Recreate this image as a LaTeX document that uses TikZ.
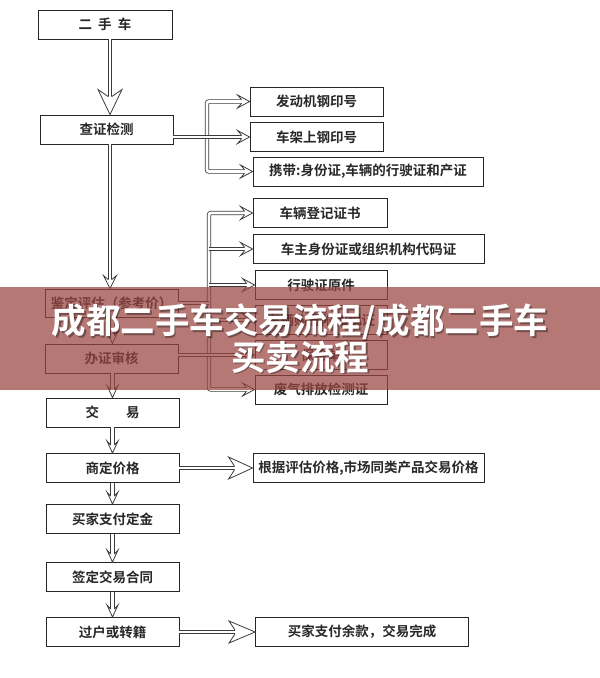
\documentclass[tikz,border=0pt]{standalone}
\usepackage{fontspec}
\newfontfamily\cjk[BoldFont={Noto Sans CJK SC Bold}]{Noto Sans CJK SC}
\usetikzlibrary{calc}
\definecolor{bannerc}{RGB}{153,69,64}
\definecolor{boxtext}{RGB}{40,40,40}
\definecolor{lnc}{RGB}{60,60,60}
\tikzset{
  bx/.style={draw=black!85, line width=0.9pt, fill=white, inner sep=0pt,
    font={\cjk\bfseries\fontsize{13.5}{15}\selectfont}, text=boxtext, minimum height=29pt},
  dbl/.style={draw=lnc, line width=0.8pt, double=white, double distance=2.8pt},
  pics/ahead/.style args={#1/#2/#3}{code={
    \fill[white] (0,0) -- (-#1,#2/2) -- (-#1+#3,1.8) -- (-#1+#3,-1.8) -- (-#1,-#2/2) -- cycle;
    \draw[draw=lnc, line width=0.8pt, line join=miter] (-#1+#3,1.8) -- (-#1,#2/2) -- (0,0) -- (-#1,-#2/2) -- (-#1+#3,-1.8);
  }},
  titlef/.style={font={\cjk\bfseries\fontsize{34.5}{37}\selectfont}, inner sep=0pt},
}
\begin{document}
\begin{tikzpicture}[x=1pt,y=-1pt]
\useasboundingbox (0,0) rectangle (600,678);
\fill[white] (0,0) rectangle (600,678);
\coordinate (c1) at (110,0);
\coordinate (c2) at (112.5,0);
\coordinate (v1) at (207,0);
\coordinate (v2) at (209,0);
% main column
\node[bx, minimum width=134pt] (ershou) at (105,24.5) {二\hspace{0.45em}手\hspace{0.45em}车};
\node[bx, minimum width=133pt] (cz) at (106.5,129.5) {查证检测};
\node[bx, minimum width=133pt, minimum height=28pt] (djpg) at (111.5,303) {鉴定评估（参考价）};
\node[bx, minimum width=133pt] (bzsh) at (111.5,358.5) {办证审核};
\node[bx, minimum width=133pt] (jy) at (112.5,412.5) {交\hspace{2em}易};
\node[bx, minimum width=133pt] (sdjg) at (112.5,468) {商定价格};
\node[bx, minimum width=133pt] (mjdj) at (112.5,519) {买家支付定金};
\node[bx, minimum width=133pt] (qdht) at (112.5,577) {签定交易合同};
\node[bx, minimum width=133pt] (gh) at (112.5,632) {过户或转籍};
% branch 1 boxes
\node[bx, minimum width=133pt] (fdj) at (316.5,101.5) {发动机钢印号};
\node[bx, minimum width=133pt] (cj) at (316.5,137) {车架上钢印号};
\node[bx, minimum width=230pt] (xd) at (368,171.5) {携带:身份证,车辆的行驶证和产证};
% branch 2 boxes
\node[bx, minimum width=134pt] (dj) at (320,213) {车辆登记证书};
\node[bx, minimum width=231pt] (cz2) at (368.5,249) {车主身份证或组织机构代码证};
\node[bx, minimum width=132pt] (xsz) at (321,285) {行驶证原件};
\node[bx, minimum width=132pt] (b4) at (321,320) {车辆购置附加税证};
\node[bx, minimum width=132pt] (b5) at (321,355) {保险单};
\node[bx, minimum width=132pt] (fq) at (321,389.5) {废气排放检测证};
% right boxes lower
\node[bx, minimum width=231pt] (gj) at (368.5,468) {根据评估价格,市场同类产品交易价格};
\node[bx, minimum width=213pt] (yk) at (362,632) {买家支付余款，交易完成};
% main column arrows
\draw[dbl, shorten >=17.7pt] (ershou.south -| c1) -- (cz.north -| c1);
\pic[rotate=-90] at (cz.north -| c1) {ahead=25/24/7};
\draw[dbl, shorten >=8.7pt] (cz.south -| c1) -- (djpg.north -| c1);
\pic[rotate=-90] at (djpg.north -| c1) {ahead=13/13/4};
\foreach \a/\b in {djpg/bzsh, bzsh/jy, jy/sdjg, sdjg/mjdj, mjdj/qdht, qdht/gh}{
  \draw[dbl, shorten >=7.7pt] (\a.south -| c2) -- (\b.north -| c2);
  \pic[rotate=-90] at (\b.north -| c2) {ahead=12/11/4};
}
% branch 1
\draw[dbl, rounded corners=2pt, shorten <=7.7pt, shorten >=7.7pt] (fdj.west) -- (fdj.west -| v1) -- (xd.west -| v1) -- (xd.west);
\draw[dbl, shorten >=7.7pt] (cz.east |- cj.west) -- (cj.west);
\foreach \b in {fdj, cj, xd}{\pic at (\b.west) {ahead=12/13/4};}
% branch 2
\draw[dbl, rounded corners=2pt, shorten <=7.7pt, shorten >=7.7pt] (dj.west) -- (dj.west -| v2) -- (fq.west -| v2) -- (fq.west);
\draw[dbl, shorten >=7.7pt] (cz2.west -| v2) -- (cz2.west);
\draw[dbl, shorten >=7.7pt] (xsz.west -| v2) -- (xsz.west);
\draw[dbl, shorten >=7.7pt] (b4.west -| v2) -- (b4.west);
\draw[dbl, shorten >=7.7pt] (bzsh.east |- b5.west) -- (b5.west);
\draw[dbl] (djpg.east) -- (djpg.east -| v2);
\foreach \b in {dj, cz2, xsz, b4, b5, fq}{\pic at (\b.west) {ahead=12/13/4};}
% big right arrows
\draw[dbl, shorten >=17.7pt] (sdjg.east) -- (gj.west);
\pic at (gj.west) {ahead=24/22/6};
\draw[dbl, shorten >=19.7pt] (gh.east) -- (yk.west);
\pic at (yk.west) {ahead=26/22/6};
% banner
\fill[bannerc, opacity=0.72] (0,287) rectangle (600,390);
\node[titlef, text=black, opacity=0.35] (t1s) at (301.5,323.5) {成都二手车交易流程/成都二手车};
\node[titlef, text=black, opacity=0.35] (t2s) at (301.5,358.5) {买卖流程};
\node[titlef, text=white] (t1) at (300,322) {成都二手车交易流程/成都二手车};
\node[titlef, text=white] (t2) at (300,357) {买卖流程};
\end{tikzpicture}
\end{document}
